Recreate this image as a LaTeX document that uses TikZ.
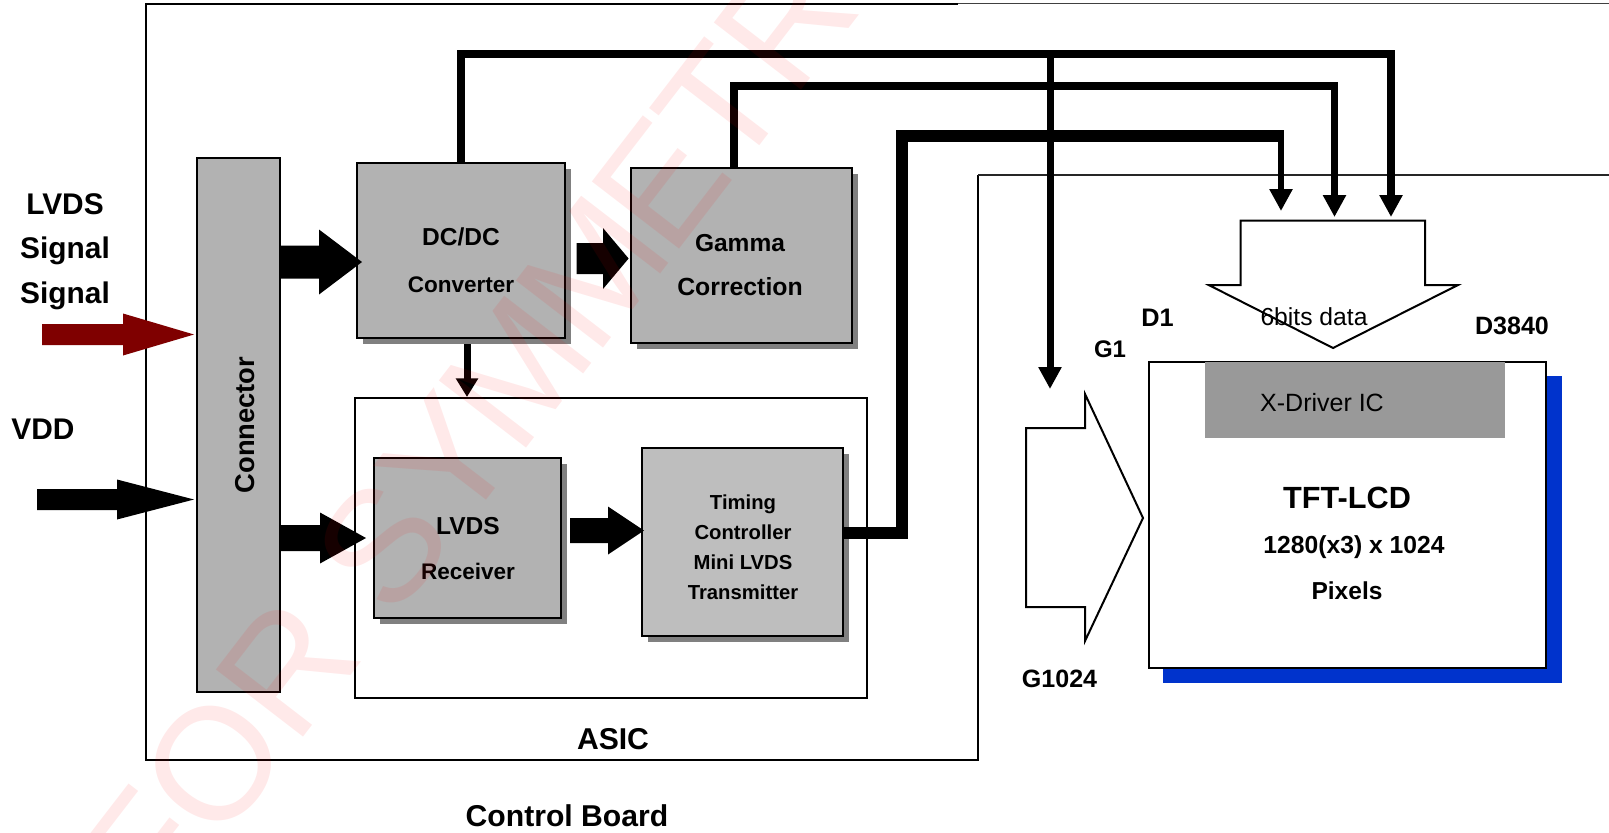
\documentclass[tikz,border=0pt]{standalone}
\usepackage{fontspec}
\setmainfont{Liberation Sans}
\usetikzlibrary{arrows.meta,calc,shadows}
\definecolor{boxgray}{HTML}{B2B2B2}
\definecolor{boxlight}{HTML}{BEBEBE}
\definecolor{shadowgray}{HTML}{808080}
\definecolor{sigred}{HTML}{7F0000}
\definecolor{panelblue}{HTML}{0033CC}
\definecolor{drivergray}{HTML}{999999}
\tikzset{
  x=0.75pt,y=-0.75pt,
  plainline/.style={draw=black,line width=1.5pt*0.75},
  gbox/.style={draw=black,line width=1.5pt,fill=boxgray,inner sep=0pt,
    copy shadow={shadow xshift=4.5pt,shadow yshift=-4.5pt,fill=shadowgray,draw=none}},
  flatbox/.style={draw=black,line width=1.5pt,fill=boxgray,inner sep=0pt},
  openbox/.style={draw=black,line width=1.5pt,fill=white,inner sep=0pt},
  lab/.style={inner sep=0pt,font=\bfseries\fontsize{#1}{#1}\selectfont},
  reglab/.style={inner sep=0pt,font=\fontsize{#1}{#1}\selectfont},
  bus/.style={draw=black,line width=#1*0.75pt,line cap=butt,line join=miter},
  tipped/.style={-{Triangle[length=16.5pt,width=16.5pt]}},
  hollow/.style={draw=black,line width=1.5pt,fill=white,line join=miter},
}
% start, tip, head length (px), half shaft (px), half head (px)
\newcommand\blockarrow[6][black]{%
  \path[fill=#1] let \p1=(#2),\p2=(#3) in
    ({\x1},{\y1+#5*0.75pt}) -- ({\x2-#4*0.75pt},{\y1+#5*0.75pt}) --
    ({\x2-#4*0.75pt},{\y1+#6*0.75pt}) -- ({\x2},{\y2}) --
    ({\x2-#4*0.75pt},{\y1-#6*0.75pt}) -- ({\x2-#4*0.75pt},{\y1-#5*0.75pt}) --
    ({\x1},{\y1-#5*0.75pt}) -- cycle;}
\begin{document}
\begin{tikzpicture}
\useasboundingbox (0,0) rectangle (1609,832);
\fill[white] (0,0) rectangle (1609,832);

% board outlines
\draw[plainline,line width=1.6pt] (958,4) -- (146,4) -- (146,760) -- (978,760) -- (978,175);
\draw[draw=black!75,line width=1pt] (958,3.5) -- (1609,3.5);
\draw[draw=black!85,line width=1pt] (978,175) -- (1609,175);

% blocks
\node[openbox,minimum width=384pt,minimum height=225pt] (asic) at (611,548) {};
\node[flatbox,minimum width=62.25pt,minimum height=400.5pt] (conn) at (238.5,425) {};
\node[gbox,minimum width=156pt,minimum height=131.25pt] (dcdc) at (461,250.5) {};
\node[gbox,minimum width=165.75pt,minimum height=131.25pt] (gamma) at (741.5,255.5) {};
\node[gbox,minimum width=139.9pt,minimum height=120pt] (lvds) at (467.75,538) {};
\node[gbox,fill=boxlight,minimum width=150.75pt,minimum height=141pt] (timing) at (742.5,542) {};

% TFT panel
\fill[panelblue] (1163,376) rectangle (1562,683);
\node[openbox,minimum width=297.75pt,minimum height=229.5pt] (tft) at (1347.5,515) {};
\node[fill=drivergray,inner sep=0pt,minimum width=225pt,minimum height=57pt] (xdrv) at (1355,400) {};

% free ends of the connectors
\coordinate (a1) at (1391,54);
\coordinate (a2) at (1391,217);
\coordinate (ab) at (1050,54);
\coordinate (abt) at (1050,389);
\coordinate (b1) at (734,86);
\coordinate (b2) at (1334.5,86);
\coordinate (b3) at (1334.5,217);
\coordinate (c0) at (844,533);
\coordinate (c1) at (902,533);
\coordinate (c2) at (902,136);
\coordinate (c3) at (1284,136);
\coordinate (c4) at (1281,136);
\coordinate (c5) at (1281,211);
\coordinate (ds) at (467,344);

% buses
\draw[bus=7.5] (dcdc.north) |- (a1);
\draw[bus=7.5,tipped] ([yshift=3pt]a1) -- (a2);
\draw[bus=7.5] (gamma.north -| b1) -- (b1) -- (b2);
\draw[bus=7.5,tipped] ([yshift=3pt]b2) -- (b3);
\draw[bus=12] (c0) -- (c1) -- (c2) -- (c3);
\draw[bus=6.5,tipped] (c4) -- (c5);
\draw[bus=7,tipped] (ab) -- (abt);
\draw[bus=7,-{Triangle[length=14pt,width=16pt]}] (ds) -- (ds |- asic.north);

% block arrows
\coordinate (t1) at (362,262);
\coordinate (s2) at (576.5,258.5);
\coordinate (t2) at (628.6,258.5);
\coordinate (t3) at (366,538);
\coordinate (s4) at (570,530.5);
\coordinate (t4) at (644,530.5);
\coordinate (rs) at (42,334.5);
\coordinate (rt) at (194,334.5);
\coordinate (vs) at (37,499.5);
\coordinate (vt) at (194,499.5);
\blockarrow{conn.east |- t1}{t1}{43}{16.5}{32.5}
\blockarrow{s2}{t2}{25.6}{15.5}{30.5}
\blockarrow{conn.east |- t3}{t3}{46}{13}{25.5}
\blockarrow{s4}{t4}{36}{12.5}{24}
\blockarrow[sigred]{rs}{rt}{71}{10.5}{21}
\blockarrow{vs}{vt}{77}{10.5}{20}

% bus-width arrows
\draw[hollow] (1240.7,220.7) -- (1425,220.7) -- (1425,285) -- (1458,285) -- (1333,348)
  -- (1208.7,285) -- (1240.7,285) -- cycle;
\draw[hollow] (1026,428) -- (1085,428) -- (1085,394) -- (1143,518) -- (1085,641)
  -- (1085,607) -- (1026,607) -- cycle;

% labels
\node[lab=22.4pt] (tlvds) at (65,204) {LVDS};
\node[lab=22.4pt] (tsig1) at (65,251) {Signal};
\node[lab=22.4pt] (tsig2) at (65,296) {Signal};
\node[lab=22.4pt] (tvdd) at (43,429) {VDD};
\node[lab=20.5pt,rotate=90] (tconn) at (245,425) {Connector};
\node[lab=18.4pt] (tdc) at (461,237) {DC/DC};
\node[lab=16.9pt] (tconv) at (461,285) {Converter};
\node[lab=18.4pt] (tgam) at (740,243) {Gamma};
\node[lab=18.6pt] (tcor) at (740,287) {Correction};
\node[lab=18.4pt] (trx1) at (468,526) {LVDS};
\node[lab=16.9pt] (trx2) at (468,571) {Receiver};
\node[lab=15.2pt] (ttc1) at (743,504) {Timing};
\node[lab=15.2pt] (ttc2) at (743,532) {Controller};
\node[lab=15.2pt] (ttc3) at (743,562) {Mini LVDS};
\node[lab=15.2pt] (ttc4) at (743,592) {Transmitter};
\node[lab=22.6pt] (tasic) at (613,739) {ASIC};
\node[lab=22.6pt] (tboard) at (567,816) {Control Board};
\node[reglab=18.5pt] (tdata) at (1314,317) {6bits data};
\node[lab=19pt] (td1) at (1157.6,318) {D1};
\node[lab=18pt] (tg1) at (1110,349) {G1};
\node[lab=18.8pt] (td2) at (1512,326) {D3840};
\node[reglab=18.75pt] (txd) at (1322,403) {X-Driver IC};
\node[lab=23pt] (ttft) at (1347,498) {TFT-LCD};
\node[lab=18.5pt] (tres) at (1354,547) {1280(x3) x 1024};
\node[lab=18.4pt] (tpix) at (1347,591) {Pixels};
\node[lab=18.8pt] (tg2) at (1059.5,679) {G1024};

% watermark
\begin{scope}
\clip (0,0) rectangle (1609,832);
\node[inner sep=0pt,text=red,opacity=0.085,rotate=52.4,font=\fontsize{120pt}{120pt}\selectfont] (wm) at (468.5,433) {FOR SY\kern-6pt M\kern-6pt M\kern-6pt E\kern-3pt TR};
\end{scope}
\end{tikzpicture}
\end{document}
